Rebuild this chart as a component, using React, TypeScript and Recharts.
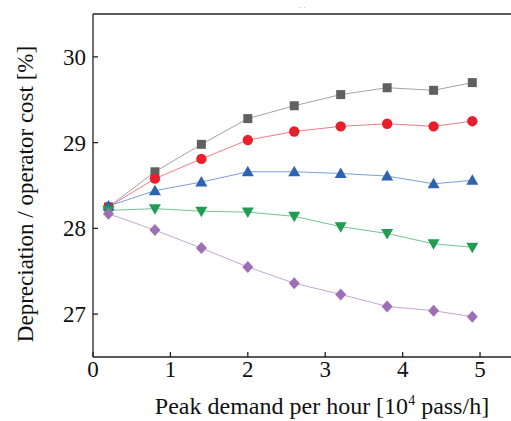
import React from "react";
import { LineChart, Line, XAxis, YAxis, ReferenceLine } from "recharts";

const demand = [0.2, 0.8, 1.4, 2.0, 2.6, 3.2, 3.8, 4.4, 4.9];
const seriesGray = [28.25, 28.66, 28.98, 29.28, 29.43, 29.56, 29.64, 29.61, 29.7];
const seriesRed = [28.25, 28.58, 28.81, 29.03, 29.13, 29.19, 29.22, 29.19, 29.25];
const seriesBlue = [28.26, 28.44, 28.54, 28.66, 28.66, 28.64, 28.61, 28.52, 28.56];
const seriesGreen = [28.21, 28.23, 28.2, 28.19, 28.14, 28.02, 27.94, 27.82, 27.78];
const seriesPurple = [28.17, 27.98, 27.77, 27.55, 27.36, 27.23, 27.09, 27.04, 26.97];
const xTicks = [0, 1, 2, 3, 4, 5];
const yTicks = [27, 28, 29, 30];

const data = demand.map((x, i) => ({
  x,
  gray: seriesGray[i],
  red: seriesRed[i],
  blue: seriesBlue[i],
  green: seriesGreen[i],
  purple: seriesPurple[i],
}));

const FONT = "Liberation Serif, Times New Roman, serif";
const AXIS = "#222";
const textStyle = { fontFamily: FONT };

const square = (color: string) => (p: any) => (
  <rect key={p.index} x={p.cx - 4.5} y={p.cy - 4.5} width={9} height={9} fill={color} />
);
const circle = (color: string) => (p: any) => (
  <circle key={p.index} cx={p.cx} cy={p.cy} r={5.2} fill={color} />
);
const triUp = (color: string) => (p: any) => (
  <path key={p.index} d={`M${p.cx},${p.cy - 6} L${p.cx + 6},${p.cy + 4.5} L${p.cx - 6},${p.cy + 4.5} Z`} fill={color} />
);
const triDown = (color: string) => (p: any) => (
  <path key={p.index} d={`M${p.cx},${p.cy + 6} L${p.cx + 6},${p.cy - 4.5} L${p.cx - 6},${p.cy - 4.5} Z`} fill={color} />
);
const diamond = (color: string) => (p: any) => (
  <path key={p.index} d={`M${p.cx},${p.cy - 6} L${p.cx + 5.5},${p.cy} L${p.cx},${p.cy + 6} L${p.cx - 5.5},${p.cy} Z`} fill={color} />
);

const XTick = (p: any) => (
  <text x={p.x} y={377} textAnchor="middle" style={textStyle} fontSize={23} fill="#111">
    {p.payload.value}
  </text>
);
const YTick = (p: any) => (
  <text x={86} y={p.y + 8} textAnchor="end" style={textStyle} fontSize={23} fill="#111">
    {p.payload.value}
  </text>
);

const XLabel = () => (
  <text x={322} y={414} textAnchor="middle" style={textStyle} fontSize={24} fill="#111">
    Peak demand per hour [10
    <tspan dy={-9} fontSize={14}>4</tspan>
    <tspan dy={9}> pass/h]</tspan>
  </text>
);

const YLabel = () => (
  <text
    x={0}
    y={0}
    transform="translate(33, 194) rotate(-90)"
    textAnchor="middle"
    style={textStyle}
    fontSize={23}
    fill="#111"
  >
    Depreciation / operator cost [%]
  </text>
);

export default function App() {
  return (
    <div style={{ position: "absolute", left: 0, top: 0, width: 511, height: 421, overflow: "hidden", background: "#fff" }}>
      <LineChart width={511} height={421} data={data} margin={{ top: 14, right: 0, left: 0, bottom: 0 }}>
        <XAxis
          dataKey="x"
          type="number"
          domain={[0, 5.4]}
          ticks={xTicks}
          allowDataOverflow
          height={64}
          stroke={AXIS}
          strokeWidth={1.3}
          tickSize={-5}
          tickMargin={9}
          tick={<XTick />}
          label={<XLabel />}
        />
        <YAxis
          type="number"
          domain={[26.5, 30.5]}
          ticks={yTicks}
          allowDataOverflow
          width={93}
          stroke={AXIS}
          strokeWidth={1.3}
          tickSize={-5}
          tickMargin={13}
          tick={<YTick />}
          label={<YLabel />}
        />
        <ReferenceLine y={30.5} stroke={AXIS} strokeWidth={1.6} ifOverflow="visible" />
        <Line dataKey="gray" type="linear" stroke="#a3a3a3" strokeWidth={1} dot={square("#606060")} isAnimationActive={false} />
        <Line dataKey="red" type="linear" stroke="#f07d82" strokeWidth={1} dot={circle("#e8202b")} isAnimationActive={false} />
        <Line dataKey="blue" type="linear" stroke="#7c9fd6" strokeWidth={1} dot={triUp("#2f63b1")} isAnimationActive={false} />
        <Line dataKey="green" type="linear" stroke="#72c592" strokeWidth={1} dot={triDown("#1f9d52")} isAnimationActive={false} />
        <Line dataKey="purple" type="linear" stroke="#c6a6d6" strokeWidth={1} dot={diamond("#9d70b6")} isAnimationActive={false} />
        <text x={302} y={10} textAnchor="middle" fontSize={8} fill="#999">
          {"·   ·"}
        </text>
      </LineChart>
    </div>
  );
}
